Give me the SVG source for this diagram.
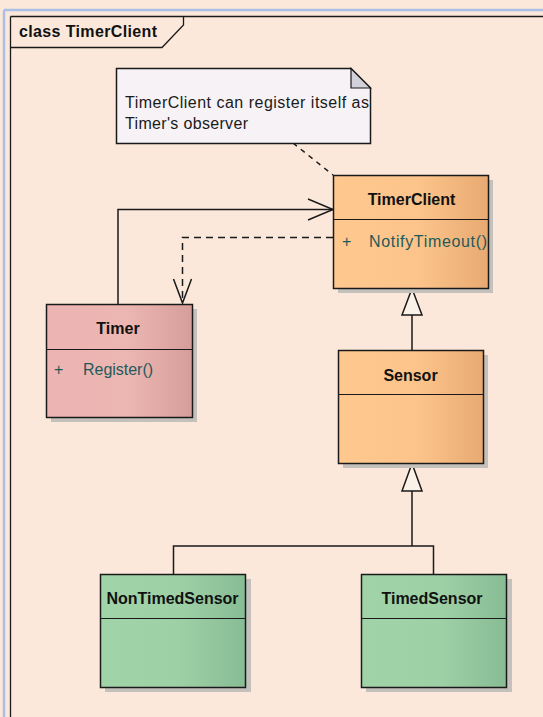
<svg xmlns="http://www.w3.org/2000/svg" width="543" height="717" viewBox="0 0 543 717">
  <style>
    .box { stroke: #1a1a1a; stroke-width: 1.5; }
    .sep { stroke: #1a1a1a; stroke-width: 1.2; }
    .shadow { fill: #c4c0bc; }
    .title { font-family: "Liberation Sans", Arial, sans-serif; font-weight: bold; font-size: 16px; fill: #111; text-anchor: middle; }
    .op { font-family: "Liberation Sans", Arial, sans-serif; font-size: 16px; fill: #1f5a5a; }
    .note { font-family: "Liberation Sans", Arial, sans-serif; font-size: 16px; fill: #1a1a1a; }
    .line { fill: none; stroke: #1a1a1a; stroke-width: 1.5; }
    .dash { fill: none; stroke: #1a1a1a; stroke-width: 1.5; stroke-dasharray: 7 5; }
  </style>
  <defs>
    <linearGradient id="orange" x1="0" y1="0" x2="1" y2="0">
      <stop offset="0" stop-color="#ffc88e"/>
      <stop offset="0.55" stop-color="#fcc48a"/>
      <stop offset="1" stop-color="#e8aa72"/>
    </linearGradient>
    <linearGradient id="pink" x1="0" y1="0" x2="1" y2="0">
      <stop offset="0" stop-color="#ecb4b2"/>
      <stop offset="0.55" stop-color="#ecb6b2"/>
      <stop offset="1" stop-color="#d69e9a"/>
    </linearGradient>
    <linearGradient id="green" x1="0" y1="0" x2="1" y2="0">
      <stop offset="0" stop-color="#a0d4a8"/>
      <stop offset="0.55" stop-color="#9ed0a6"/>
      <stop offset="1" stop-color="#88bc94"/>
    </linearGradient>
  </defs>

  <!-- canvas and frame -->
  <rect x="0" y="0" width="543" height="717" fill="#fce8da"/>
  <line x1="4" y1="10" x2="543" y2="10" stroke="#a9bfe6" stroke-width="2.5"/>
  <line x1="4" y1="10" x2="4" y2="717" stroke="#a9bfe6" stroke-width="2.5"/>
  <g id="frame">
    <line x1="10.5" y1="16.5" x2="543" y2="16.5" stroke="#1a1a1a" stroke-width="1.3"/>
    <line x1="10.5" y1="16.5" x2="10.5" y2="717" stroke="#1a1a1a" stroke-width="1.3"/>
    <polyline points="183.5,16.5 183.5,25 162,47.5 10.5,47.5" fill="none" stroke="#1a1a1a" stroke-width="1.3"/>
    <text x="19" y="37" class="title" style="text-anchor:start" textLength="138">class TimerClient</text>
  </g>

  <!-- connectors -->
  <g id="connectors">
    <!-- note link -->
    <line x1="293" y1="143" x2="333" y2="175" class="dash" style="stroke-dasharray:5 5"/>
    <!-- Timer -> TimerClient association -->
    <polyline points="118,304 118,209.5 333,209.5" class="line"/>
    <polyline points="308,199 333,209.5 308,220" class="line"/>
    <!-- TimerClient -> Timer dependency -->
    <polyline points="333,237.5 182.5,237.5 182.5,303" class="dash"/>
    <polyline points="173.5,279 182.5,303 191.5,279" class="line"/>
    <!-- Sensor generalizes TimerClient -->
    <line x1="412" y1="350" x2="412" y2="315" class="line"/>
    <polygon points="412,288.5 402,315 422,315" fill="#faf2e8" stroke="#1a1a1a" stroke-width="1.5"/>
    <!-- sensor subclasses -->
    <polyline points="173.5,574 173.5,546 433.5,546 433.5,574" class="line"/>
    <line x1="412" y1="546" x2="412" y2="491" class="line"/>
    <polygon points="412,463.5 402,491 422,491" fill="#faf2e8" stroke="#1a1a1a" stroke-width="1.5"/>
  </g>

  <!-- note -->
  <g id="note">
    <path d="M116.5,68.5 H351 L370.5,88 V143.5 H116.5 Z" fill="#f6f2f6" stroke="#1a1a1a" stroke-width="1.5"/>
    <path d="M351,68.5 V88 H370.5 Z" fill="#d2d0d8" stroke="#1a1a1a" stroke-width="1.2"/>
    <text x="125" y="108" class="note" textLength="244">TimerClient can register itself as</text>
    <text x="125" y="129" class="note" textLength="123">Timer's observer</text>
  </g>

  <!-- TimerClient -->
  <g id="TimerClient">
    <rect x="338" y="180" width="155" height="113" class="shadow"/>
    <rect x="333.5" y="175.5" width="155" height="113" fill="url(#orange)" class="box"/>
    <line x1="333.5" y1="219.5" x2="488.5" y2="219.5" class="sep"/>
    <text x="411.5" y="205" class="title">TimerClient</text>
    <text x="342" y="247" class="op">+</text>
    <text x="369" y="247" class="op" textLength="118">NotifyTimeout()</text>
  </g>

  <!-- Timer -->
  <g id="Timer">
    <rect x="51" y="309" width="146" height="113" class="shadow"/>
    <rect x="46.5" y="304.5" width="146" height="113" fill="url(#pink)" class="box"/>
    <line x1="46.5" y1="349.5" x2="192.5" y2="349.5" class="sep"/>
    <text x="118" y="334" class="title">Timer</text>
    <text x="54" y="375" class="op">+</text>
    <text x="83" y="375" class="op" textLength="70">Register()</text>
  </g>

  <!-- Sensor -->
  <g id="Sensor">
    <rect x="343" y="355" width="145" height="113" class="shadow"/>
    <rect x="338.5" y="350.5" width="145" height="113" fill="url(#orange)" class="box"/>
    <line x1="338.5" y1="394.5" x2="483.5" y2="394.5" class="sep"/>
    <text x="410.5" y="381" class="title">Sensor</text>
  </g>

  <!-- NonTimedSensor -->
  <g id="NonTimedSensor">
    <rect x="105" y="579" width="146" height="113" class="shadow"/>
    <rect x="100.5" y="574.5" width="145" height="113" fill="url(#green)" class="box"/>
    <line x1="100.5" y1="618.5" x2="245.5" y2="618.5" class="sep"/>
    <text x="172.5" y="604" class="title">NonTimedSensor</text>
  </g>

  <!-- TimedSensor -->
  <g id="TimedSensor">
    <rect x="366" y="579" width="146" height="113" class="shadow"/>
    <rect x="361.5" y="574.5" width="145" height="113" fill="url(#green)" class="box"/>
    <line x1="361.5" y1="618.5" x2="506.5" y2="618.5" class="sep"/>
    <text x="432" y="604" class="title">TimedSensor</text>
  </g>
</svg>
